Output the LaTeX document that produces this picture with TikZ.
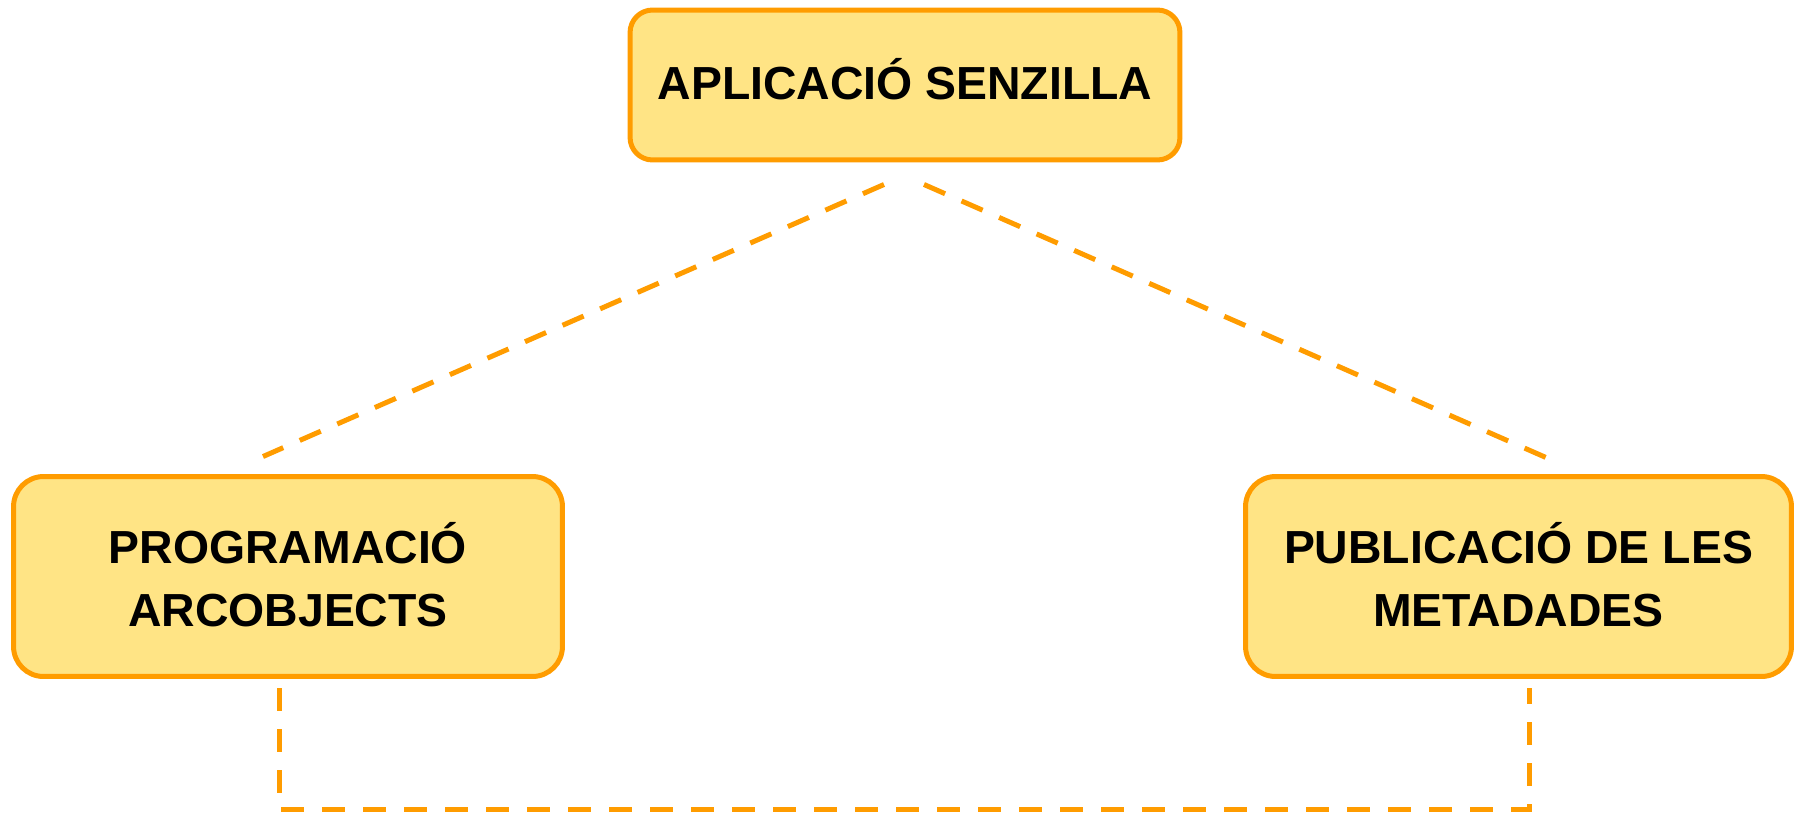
\documentclass[tikz,border=0pt]{standalone}
\usepackage{fontspec}
\setmainfont{Liberation Sans}
\usetikzlibrary{calc}
\definecolor{boxfill}{HTML}{FFE485}
\definecolor{boxline}{HTML}{FF9C00}
\begin{document}
\begin{tikzpicture}[x=0.02cm,y=-0.02cm,
box/.style={draw=boxline,fill=boxfill,line width=0.1cm,align=center,inner sep=0pt,
  font=\fontsize{26.4}{36}\selectfont\bfseries},
link/.style={draw=boxline,line width=0.1cm,dash pattern=on 0.46cm off 0.36cm}]
\useasboundingbox(0,0)rectangle(1798,812);
\node[box,rounded corners=0.45cm,minimum width=11cm,minimum height=3cm,text depth=0.24cm](app)at(905,85){APLICACIÓ SENZILLA};
\node[box,rounded corners=0.6cm,minimum width=10.98cm,minimum height=4cm,text depth=0.09cm](prog)at(288,576.5){PROGRAMACIÓ\\ARCOBJECTS};
\node[box,rounded corners=0.6cm,minimum width=10.92cm,minimum height=4cm,text depth=0.09cm](publ)at(1518.5,576.5){PUBLICACIÓ DE LES\\METADADES};
\coordinate(al)at($(app.south)+(-21,22)$);
\coordinate(ar)at($(app.south)+(19,22)$);
\coordinate(pn)at($(prog.north)+(-25,-17.5)$);
\coordinate(qn)at($(publ.north)+(27.5,-16.5)$);
\coordinate(ps)at($(prog.south)+(-9,9.5)$);
\coordinate(qs)at($(publ.south)+(10.5,9.5)$);
\coordinate(bot)at(905,809);
\draw[link](al)--(pn);
\draw[link](ar)--(qn);
\draw[link](ps)|-(bot)-|(qs);
\end{tikzpicture}
\end{document}
